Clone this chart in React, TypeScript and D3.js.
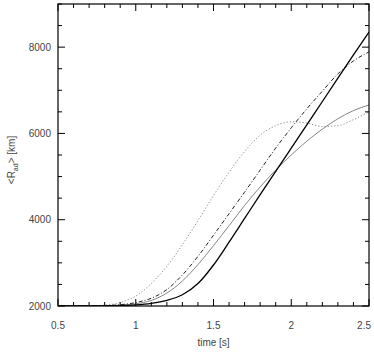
import React, { useEffect, useRef } from 'react';
import * as d3 from 'd3';

// time grid [s]
const TIMES = [0.5, 0.6, 0.7, 0.8, 0.9, 1.0, 1.1, 1.2, 1.3, 1.4, 1.5, 1.6, 1.7, 1.8, 1.9, 2.0, 2.1, 2.2, 2.3, 2.4, 2.5];

// <R_ad> [km] for each run
const SOLID = [2000, 2000, 2000, 2005, 2010, 2025, 2060, 2130, 2260, 2520, 2950, 3480, 4030, 4580, 5120, 5660, 6200, 6740, 7280, 7820, 8350];
const DASHDOT = [2000, 2000, 2000, 2010, 2030, 2080, 2180, 2380, 2720, 3150, 3640, 4140, 4640, 5150, 5660, 6130, 6570, 6980, 7380, 7680, 7890];
const GREY = [2000, 2000, 2000, 2005, 2020, 2050, 2130, 2300, 2580, 2960, 3400, 3860, 4330, 4760, 5150, 5500, 5820, 6100, 6340, 6530, 6660];
const DOTTED = [2000, 2000, 2005, 2020, 2080, 2230, 2520, 2920, 3420, 3980, 4560, 5100, 5580, 5960, 6180, 6270, 6240, 6160, 6180, 6320, 6500];

const X_TICKS = [0.5, 1, 1.5, 2, 2.5];
const X_TICK_LABELS = ['0.5', '1', '1.5', '2', '2.5'];
const Y_TICKS = [2000, 4000, 6000, 8000];

export default function App() {
  const svgRef = useRef<SVGSVGElement>(null);
  const W = 374;
  const H = 352;
  const MARGIN = { top: 4, right: 5, bottom: 46, left: 58 };

  useEffect(() => {
    const svg = d3.select(svgRef.current);
    svg.selectAll('*').remove();

    const x = d3.scaleLinear().domain([0.5, 2.5]).range([MARGIN.left, W - MARGIN.right]);
    const y = d3.scaleLinear().domain([2000, 9000]).range([H - MARGIN.bottom, MARGIN.top]);
    const x0 = x.range()[0], x1 = x.range()[1];
    const y0 = y.range()[0], y1 = y.range()[1];

    svg.append('clipPath').attr('id', 'plotclip')
      .append('rect').attr('x', x0).attr('y', y1).attr('width', x1 - x0).attr('height', y0 - y1);

    const series = [
      { vals: DOTTED, color: '#8a8a8a', width: 1, dash: '1.2,2' },
      { vals: GREY, color: '#777', width: 0.9, dash: null },
      { vals: DASHDOT, color: '#222', width: 1, dash: '4,2,1,2' },
      { vals: SOLID, color: '#000', width: 1.3, dash: null },
    ];

    const line = d3.line<number>()
      .x((d, i) => x(TIMES[i]))
      .y(d => y(d))
      .curve(d3.curveMonotoneX);

    const g = svg.append('g').attr('clip-path', 'url(#plotclip)');
    series.forEach(s => {
      g.append('path')
        .attr('d', line(s.vals))
        .attr('fill', 'none')
        .attr('stroke', s.color)
        .attr('stroke-width', s.width)
        .attr('stroke-dasharray', s.dash);
    });

    // frame
    svg.append('rect')
      .attr('x', x0).attr('y', y1)
      .attr('width', x1 - x0).attr('height', y0 - y1)
      .attr('fill', 'none').attr('stroke', '#000').attr('stroke-width', 1.2);

    const ticks = svg.append('g').attr('stroke', '#000').attr('stroke-width', 1);
    // x ticks, inward on bottom and top
    d3.range(5, 26).map(v => v / 10).forEach(t => {
      const major = Math.abs(t * 2 - Math.round(t * 2)) < 1e-6;
      const len = major ? 7 : 4;
      ticks.append('line').attr('x1', x(t)).attr('x2', x(t)).attr('y1', y0).attr('y2', y0 - len);
      ticks.append('line').attr('x1', x(t)).attr('x2', x(t)).attr('y1', y1).attr('y2', y1 + len);
    });
    // y ticks every 500, major at 2000 steps
    d3.range(2000, 9001, 500).forEach(v => {
      const major = v % 2000 === 0;
      const len = major ? 7 : 4;
      ticks.append('line').attr('y1', y(v)).attr('y2', y(v)).attr('x1', x0).attr('x2', x0 + len);
      ticks.append('line').attr('y1', y(v)).attr('y2', y(v)).attr('x1', x1).attr('x2', x1 - len);
    });

    const font = "'Liberation Sans', Arial, sans-serif";
    X_TICKS.forEach((t, i) => {
      const last = i === X_TICKS.length - 1;
      svg.append('text')
        .attr('x', last ? x(t) + 2 : x(t)).attr('y', y0 + 23)
        .attr('text-anchor', last ? 'end' : 'middle')
        .style('font-family', font).style('font-size', '10px').style('fill', '#444')
        .text(X_TICK_LABELS[i]);
    });
    Y_TICKS.forEach(v => {
      svg.append('text')
        .attr('x', x0 - 7).attr('y', y(v)).attr('dy', '0.35em')
        .attr('text-anchor', 'end')
        .style('font-family', font).style('font-size', '10px').style('fill', '#444')
        .text(String(v));
    });

    svg.append('text')
      .attr('x', (x0 + x1) / 2).attr('y', H - 6)
      .attr('text-anchor', 'middle')
      .style('font-family', font).style('font-size', '10px').style('fill', '#444')
      .text('time [s]');

    const yt = svg.append('text')
      .attr('transform', `translate(15,${(y0 + y1) / 2 + 5}) rotate(-90)`)
      .attr('text-anchor', 'middle')
      .style('font-family', font).style('font-size', '10px').style('fill', '#444');
    yt.append('tspan').text('<R');
    yt.append('tspan').attr('dy', 3).style('font-size', '7px').text('ad');
    yt.append('tspan').attr('dy', -3).text('>  [km]');
  }, []);

  return (
    <svg ref={svgRef} width={W} height={H}
      style={{ position: 'absolute', left: 0, top: 0, background: '#fff' }} />
  );
}
